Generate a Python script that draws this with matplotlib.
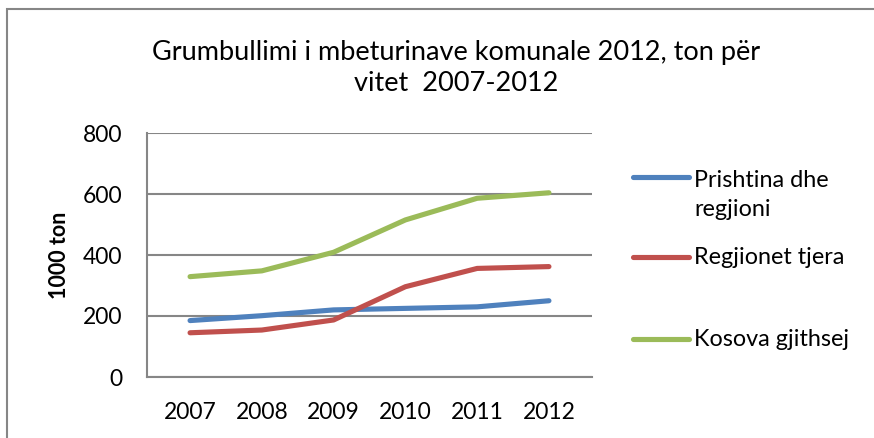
import matplotlib
matplotlib.use("Agg")
import matplotlib.pyplot as plt
from matplotlib.lines import Line2D
from matplotlib.patches import Rectangle

years = ["2007", "2008", "2009", "2010", "2011", "2012"]
prishtina = [185, 201, 220, 225, 230, 250]
regjionet = [145, 154, 187, 296, 356, 362]
kosova = [329, 348, 409, 515, 586, 604]

series_names = ["Prishtina dhe\nregjioni", "Regjionet tjera", "Kosova gjithsej"]
series_colors = ["#4F81BD", "#C0504D", "#9BBB59"]
series_values = [prishtina, regjionet, kosova]

plt.rcParams["font.family"] = ["Lato", "DejaVu Sans"]

W, H = 874, 438
fig = plt.figure(figsize=(W / 100, H / 100), dpi=100)
ax = fig.add_axes([147 / W, 1 - 377 / H, (592 - 147) / W, (377 - 133) / H])

x = range(len(years))
for vals, col in zip(series_values, series_colors):
    ax.plot(x, vals, color=col, lw=3.7, solid_capstyle="round", solid_joinstyle="round")

ax.set_xlim(-0.6, len(years) - 0.4)
ax.set_ylim(0, 800)
ax.set_yticks([0, 200, 400, 600, 800])
ax.set_xticks(list(x))
ax.set_xticklabels(years)
ax.tick_params(axis="both", length=0, labelsize=16.5, colors="black")
ax.tick_params(axis="y", pad=18)
ax.tick_params(axis="x", pad=18)
ax.yaxis.grid(True, color="#868686", lw=1.5)
ax.set_axisbelow(True)
for side in ["top", "right"]:
    ax.spines[side].set_visible(False)
for side in ["left", "bottom"]:
    ax.spines[side].set_color("#868686")
    ax.spines[side].set_linewidth(1.5)

fig.text(60 / W, 1 - 255 / H, "1000 ton", rotation=90, fontsize=15.5,
         fontweight="bold", ha="center", va="center")

fig.text(456 / W, 1 - 68 / H, "Grumbullimi i mbeturinave komunale 2012, ton për\nvitet  2007-2012",
         fontsize=19.5, ha="center", va="center", linespacing=1.3)

# legend
leg_y = [177, 257, 339]
text_y = [195, 257, 339]
for name, col, ly, ty in zip(series_names, series_colors, leg_y, text_y):
    fig.add_artist(Line2D([633 / W, 689 / W], [1 - ly / H, 1 - ly / H], color=col,
                          lw=3.7, solid_capstyle="round"))
    fig.text(694 / W, 1 - ty / H, name, fontsize=16.8, ha="left", va="center", linespacing=1.45)

# chart border
fig.add_artist(Rectangle((7 / W, -0.05), 1.1, 1 - 9 / H + 0.05, transform=fig.transFigure,
                         fill=False, edgecolor="#868686", lw=1.5))

fig.savefig("out.png", dpi=100)
